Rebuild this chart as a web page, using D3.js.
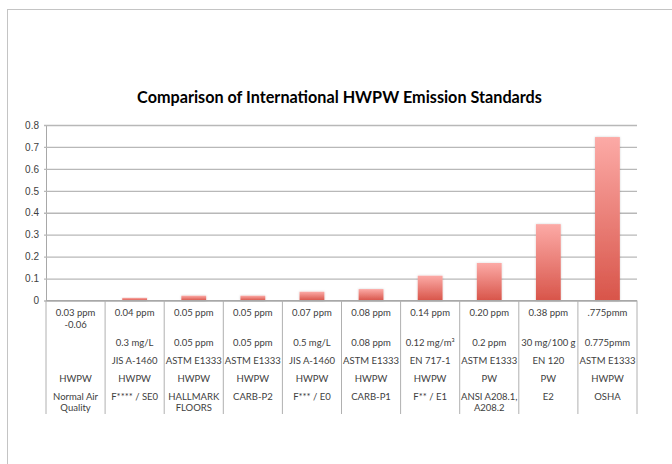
<!DOCTYPE html>
<html>
<head>
<meta charset="utf-8">
<script src="https://cdn.jsdelivr.net/npm/d3@7"></script>
<style>
  body { margin: 0; background: #fff; }
  svg { display: block; font-family: Lato, "Open Sans", sans-serif; }
</style>
</head>
<body>
<svg id="chart" width="672" height="464"></svg>
<script>
// chart values
const chartTitle = 'Comparison of International HWPW Emission Standards'
const standards = ['Normal Air|Quality', 'F**** / SE0', 'HALLMARK|FLOORS', 'CARB-P2', 'F*** / E0',
  'CARB-P1', 'F** / E1', 'ANSI A208.1,|A208.2', 'E2', 'OSHA']
const ppmLabels = ['0.03 ppm|-0.06', '0.04 ppm', '0.05 ppm', '0.05 ppm', '0.07 ppm',
  '0.08 ppm', '0.14 ppm', '0.20 ppm', '0.38 ppm', '.775pmm']
const limitLabels = ['', '0.3 mg/L', '0.05 ppm', '0.05 ppm', '0.5 mg/L',
  '0.08 ppm', '0.12 mg/m³', '0.2 ppm', '30 mg/100 g', '0.775pmm']
const methodLabels = ['', 'JIS A-1460', 'ASTM E1333', 'ASTM E1333', 'JIS A-1460',
  'ASTM E1333', 'EN 717-1', 'ASTM E1333', 'EN 120', 'ASTM E1333']
const productLabels = ['HWPW', 'HWPW', 'HWPW', 'HWPW', 'HWPW', 'HWPW', 'HWPW', 'PW', 'PW', 'HWPW']
const values = [0, 0.012, 0.022, 0.022, 0.04, 0.052, 0.113, 0.171, 0.348, 0.745]
const yTicks = [0, 0.1, 0.2, 0.3, 0.4, 0.5, 0.6, 0.7, 0.8]

const svg = d3.select('#chart')
const textColor = '#404040'

// outer chart frame, runs off the page on the right and bottom
svg.append('rect')
  .attr('x', 7.5).attr('y', 9.5)
  .attr('width', 720).attr('height', 520)
  .attr('fill', 'none').attr('stroke', '#c4c4c4')

const x = d3.scaleBand().domain(standards).range([46, 637])
const y = d3.scaleLinear().domain([0, 0.8]).range([300.5, 125])

const defs = svg.append('defs')
const grad = defs.append('linearGradient')
  .attr('id', 'barFill').attr('x1', 0).attr('y1', 0).attr('x2', 0).attr('y2', 1)
grad.append('stop').attr('offset', '0%').attr('stop-color', '#fcaaa6')
grad.append('stop').attr('offset', '100%').attr('stop-color', '#d8554a')

const shadow = defs.append('filter').attr('id', 'shade')
  .attr('x', '-20%').attr('y', '-20%').attr('width', '140%').attr('height', '140%')
shadow.append('feDropShadow')
  .attr('dx', 0).attr('dy', 0).attr('stdDeviation', 1)
  .attr('flood-color', '#000').attr('flood-opacity', 0.18)

svg.append('text')
  .attr('x', 339.5).attr('y', 103)
  .attr('text-anchor', 'middle')
  .attr('font-size', 16.2).attr('font-weight', 'bold')
  .attr('fill', '#000')
  .text(chartTitle)

// y axis with gridlines
const yAxis = d3.axisLeft(y)
  .tickValues(yTicks)
  .tickSize(-(637 - 46))
  .tickPadding(7)
  .tickFormat(d => d === 0 ? '0' : d3.format('.1f')(d))

svg.append('g')
  .attr('transform', 'translate(46,0)')
  .call(yAxis)
  .call(g => g.select('.domain').attr('stroke', '#a8a8a8'))
  .call(g => g.selectAll('.tick line').attr('stroke', '#b8b8b8').attr('stroke-width', 1.3).attr('x1', -2))
  .call(g => g.selectAll('.tick text').attr('fill', textColor).attr('font-size', 10))

// bars
svg.append('g').selectAll('rect')
  .data(values)
  .join('rect')
  .attr('x', (d, i) => x(standards[i]) + x.bandwidth() * 0.29)
  .attr('width', x.bandwidth() * 0.42)
  .attr('y', d => y(d))
  .attr('height', d => y(0) - y(d))
  .attr('fill', 'url(#barFill)')
  .attr('filter', 'url(#shade)')

// x axis line and table separators
const tableBottom = 414
svg.append('line')
  .attr('x1', 46).attr('x2', 637)
  .attr('y1', y(0)).attr('y2', y(0))
  .attr('stroke', '#a8a8a8')

const bounds = standards.map(s => x(s)).concat([x.range()[1]])
svg.append('g').selectAll('line')
  .data(bounds)
  .join('line')
  .attr('x1', d => d).attr('x2', d => d)
  .attr('y1', y(0)).attr('y2', tableBottom)
  .attr('stroke', '#b0b0b0')

// data table rows below the axis
const rows = [
  { labels: ppmLabels, y: 316 },
  { labels: limitLabels, y: 346 },
  { labels: methodLabels, y: 364 },
  { labels: productLabels, y: 381.5 },
  { labels: standards, y: 399.5 }
]
const lineGap = 11.5

rows.forEach(row => {
  const g = svg.append('g')
  row.labels.forEach((label, i) => {
    const t = g.append('text')
      .attr('x', x(standards[i]) + x.bandwidth() / 2)
      .attr('y', row.y)
      .attr('text-anchor', 'middle')
      .attr('font-size', 9.5)
      .attr('fill', textColor)
    label.split('|').forEach((part, k) => {
      t.append('tspan')
        .attr('x', x(standards[i]) + x.bandwidth() / 2)
        .attr('dy', k === 0 ? 0 : lineGap)
        .text(part)
    })
  })
})
</script>
</body>
</html>
